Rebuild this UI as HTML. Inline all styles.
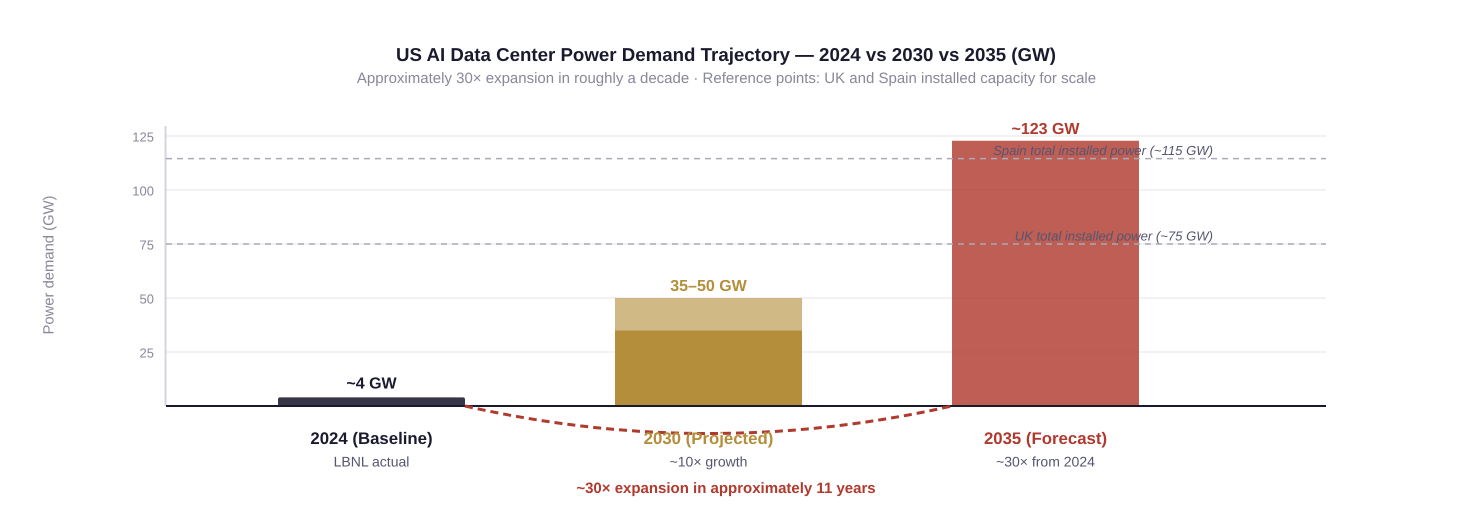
<!DOCTYPE html>
<html lang="en">
<head>
<meta charset="utf-8">
<title>US AI Data Center Power Demand Trajectory</title>
<style>
html,body{margin:0;padding:0;background:#fff;width:1464px;height:526px;overflow:hidden}
svg{display:block;font-family:"Liberation Sans",Arial,sans-serif;text-rendering:geometricPrecision}
</style>
</head>
<body>
<svg id="chart" width="1464" height="526" viewBox="0 0 1464 526" xmlns="http://www.w3.org/2000/svg"></svg>
<script>
const categories = ['2024 (Baseline)', '2030 (Projected)', '2035 (Forecast)'];
const subLabels = ['LBNL actual', '~10× growth', '~30× from 2024'];
const valueLabels = ['~4 GW', '35–50 GW', '~123 GW'];
const baseValues = [4, 35, 122.8];
const rangeValues = [0, 15, 0];
const yTicks = [25, 50, 75, 100, 125];
const refValues = [114.5, 75];
const refLabels = ['Spain total installed power (~115 GW)', 'UK total installed power (~75 GW)'];

const svg = document.getElementById('chart');
const NS = 'http://www.w3.org/2000/svg';
const y = v => 406 - v * 2.16;
const xCenter = i => 371.5 + i * 337;
const barWidth = 187;
const colors = ['#1a1a2e', '#b48e3b', '#b03a2e'];

function add(tag, attrs, name, text) {
  const el = document.createElementNS(NS, tag);
  for (const k in attrs) el.setAttribute(k, attrs[k]);
  
  
  if (text !== undefined) el.textContent = text;
  svg.appendChild(el);
  return el;
}
function label(x, yPos, text, size, fill, weight, name, extra) {
  return add('text', Object.assign({x: x, y: yPos, 'font-size': size, fill: fill, 'font-weight': weight, 'text-anchor': 'middle'}, extra || {}), name, text);
}

label(726, 61, 'US AI Data Center Power Demand Trajectory — 2024 vs 2030 vs 2035 (GW)', 18.7, '#1a1a2e', 700, 'chart-title');
label(726.5, 83, 'Approximately 30× expansion in roughly a decade · Reference points: UK and Spain installed capacity for scale', 15, '#888899', 400, 'chart-subtitle');

yTicks.forEach(t => {
  add('line', {x1: 166, x2: 1326, y1: y(t), y2: y(t), stroke: '#eeeef3', 'stroke-width': 1.5}, 'gridline-' + t);
  label(154, y(t) + 5.5, String(t), 13, '#888899', 400, 'y-tick-' + t, {'text-anchor': 'end'});
});
add('line', {x1: 165.5, x2: 165.5, y1: 126, y2: 406, stroke: '#d4d4dc', 'stroke-width': 2}, 'y-axis-line');
label(49.5, 265, 'Power demand (GW)', 14.8, '#888899', 400, 'y-axis-title', {transform: 'rotate(-90 49.5 265)', 'dominant-baseline': 'middle'});

categories.forEach((c, i) => {
  const left = xCenter(i) - barWidth / 2;
  const top = y(baseValues[i]);
  if (i === 0) {
    add('rect', {x: left, y: top, width: barWidth, height: y(0) - top, rx: 2, fill: colors[i], 'fill-opacity': 0.88}, 'bar-2024');
  } else {
    add('rect', {x: left, y: top, width: barWidth, height: y(0) - top, fill: colors[i], 'fill-opacity': i === 2 ? 0.82 : 1}, 'bar-' + c.slice(0, 4));
  }
  let labelTop = top;
  if (rangeValues[i] > 0) {
    const rt = y(baseValues[i] + rangeValues[i]);
    add('rect', {x: left, y: rt, width: barWidth, height: top - rt, fill: colors[i], 'fill-opacity': 0.62}, 'bar-range-' + c.slice(0, 4));
    labelTop = rt;
  }
  label(xCenter(i), labelTop - (i === 0 ? 9 : 7), valueLabels[i], 16, colors[i], 700, 'value-label-' + c.slice(0, 4));
});

refValues.forEach((v, i) => {
  add('line', {x1: 166, x2: 1326, y1: y(v), y2: y(v), stroke: '#aaaab6', 'stroke-width': 1.5, 'stroke-dasharray': '6 5'}, 'reference-line-' + i);
  label(1213, y(v) - 3.5, refLabels[i], 13.1, '#555570', 400, 'reference-label-' + i, {'text-anchor': 'end', 'font-style': 'italic'});
});

add('line', {x1: 166, x2: 1326, y1: 406, y2: 406, stroke: '#1a1a2e', 'stroke-width': 2}, 'x-axis-line');

const x0End = xCenter(0) + barWidth / 2;
const x2Start = xCenter(2) - barWidth / 2;
add('path', {d: `M${x0End} ${y(0)} Q${(x0End + x2Start) / 2} ${y(0) + 55} ${x2Start} ${y(0)}`, fill: 'none', stroke: '#b03a2e', 'stroke-width': 3, 'stroke-dasharray': '8 5'}, 'growth-arc');

categories.forEach((c, i) => {
  label(xCenter(i), 444, c, 16.8, colors[i], 700, 'category-label-' + c.slice(0, 4));
  label(xCenter(i), 466.5, subLabels[i], 14, '#555570', 400, 'category-sublabel-' + c.slice(0, 4));
});
label(726, 493, '~30× expansion in approximately 11 years', 15, '#b03a2e', 700, 'growth-annotation');
</script>
</body>
</html>
